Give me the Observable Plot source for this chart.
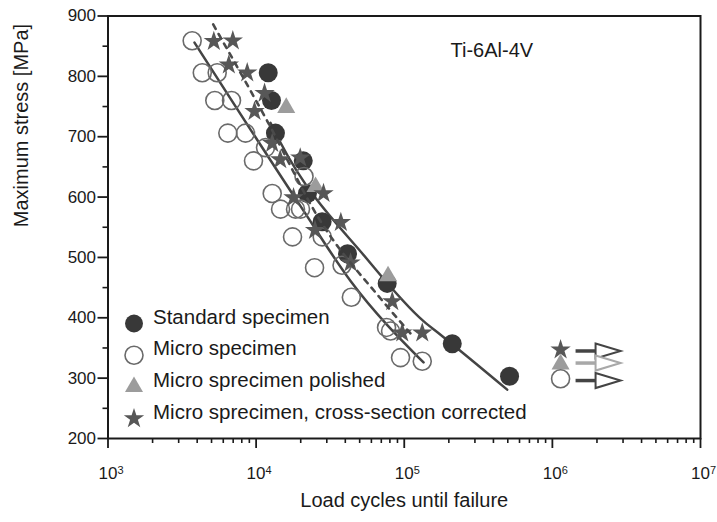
<!DOCTYPE html>
<html><head><meta charset="utf-8">
<script src="https://cdn.jsdelivr.net/npm/d3@7"></script>
<script src="https://cdn.jsdelivr.net/npm/@observablehq/plot@0.6"></script>
<style>body{margin:0;background:#fff}#chart{width:717px;height:522px}</style>
</head><body><div id="chart"></div>
<script>
// ---- data (load cycles N, maximum stress S in MPa) ----
const standardN = [12070, 12700, 13500, 20800, 22200, 27900, 41400, 76700, 210900, 514000];
const standardS = [806, 760, 706, 660, 606, 559, 506, 457, 357, 303];

const microN = [3700, 4330, 5460, 5260, 6820, 6440, 8480, 11570, 9600, 21060, 12840, 14620, 18450, 19940, 17610, 27940, 24800, 38020, 43940, 75950, 80830, 94400, 132300];
const microS = [859, 806, 806, 760, 760, 706, 706, 682, 660, 634, 606, 580, 580, 580, 534, 534, 483, 487, 434, 384, 378, 334, 328];

const polishedN = [15970, 25180, 77740];
const polishedS = [748, 617, 469];

const correctedN = [5181, 6960, 6542, 8709, 11400, 9755, 12840, 14550, 19850, 17890, 28510, 24990, 37320, 43400, 82990, 96940, 132300];
const correctedS = [858, 859, 819, 806, 772, 742, 689, 662, 665, 599, 606, 545, 558, 491, 427, 375, 375];

// run-outs (no failure)
const runoutN = [1136000, 1136000, 1136000];
const runoutS = [347, 323, 299];
const runoutType = ["corrected", "polished", "micro"];
const arrowFromN = [1434000, 1434000, 1434000];
const arrowHeadN = [1957000, 1957000, 1957000];
const arrowS = [345, 325, 296];

// fit curves
const standardFitN = [12500, 14620, 56200, 135500, 175700, 495500];
const standardFitS = [723, 690, 497, 394, 372, 281];
const microFitN = [3837, 19940, 43400, 135000];
const microFitS = [856, 585, 461, 326];
const correctedFitN = [5131, 11885, 27220, 69180, 110300];
const correctedFitS = [886, 726, 560, 432, 374];

// ticks
const xMajor = [1e3, 1e4, 1e5, 1e6, 1e7];
const xMinor = [1e3, 1e4, 1e5, 1e6].flatMap(d => [2,3,4,5,6,7,8,9].map(k => k * d));
const yMajor = [200, 300, 400, 500, 600, 700, 800, 900];
const yMinor = [250, 350, 450, 550, 650, 750, 850];

const legendLabels = ["Standard specimen", "Micro specimen", "Micro sprecimen polished", "Micro sprecimen, cross-section corrected"];
const titleText = "Ti-6Al-4V";
const xLabel = "Load cycles until failure";
const yLabel = "Maximum stress [MPa]";

// ---- styling ----
const C = {std: "#383838", micro: "#6a6a6a", pol: "#9c9c9c", star: "#575757", line: "#444", dash: "#4a4a4a", ink: "#1a1a1a", lightArrow: "#a8a8a8"};
const FONT = "'Liberation Sans', Arial, Helvetica, sans-serif";

const rows = (N, S) => N.map((n, i) => ({n, s: S[i]}));
const standard = rows(standardN, standardS);
const micro = rows(microN, microS);
const polished = rows(polishedN, polishedS);
const corrected = rows(correctedN, correctedS);
const runouts = runoutN.map((n, i) => ({n, s: runoutS[i], type: runoutType[i]}));
const arrows = arrowFromN.map((n, i) => ({n1: n, n2: arrowHeadN[i], s: arrowS[i], c: i === 1 ? C.lightArrow : "#444"}));

const arrowHead = {draw(ctx) { ctx.moveTo(0, -7.5); ctx.lineTo(25, 0); ctx.lineTo(0, 7.5); ctx.closePath(); }};

const markStyle = {
  std: {symbol: "circle", r: 9.5, fill: C.std, stroke: "none"},
  micro: {symbol: "circle", r: 9, fill: "none", stroke: C.micro, strokeWidth: 1.6},
  polished: {symbol: "triangle", r: 6.7, fill: C.pol, stroke: "none"},
  corrected: {symbol: "star", r: 6.4, fill: C.star, stroke: "none"}
};
const legendKeys = ["std", "micro", "polished", "corrected"];

const legendMarks = legendKeys.flatMap((k, i) => [
  Plot.dot([0], {frameAnchor: "bottom-left", dx: 26, dy: -115 + i * 31.7, ...markStyle[k], r: k === "std" ? 9 : markStyle[k].r}),
  Plot.text([legendLabels[i]], {frameAnchor: "bottom-left", dx: 45, dy: -115 + i * 31.7, text: d => d, textAnchor: "start", fontSize: 20.5, fill: C.ink})
]);

const chart = Plot.plot({
  width: 717, height: 522,
  marginLeft: 107.5, marginRight: 17, marginTop: 15.5, marginBottom: 84,
  style: {fontFamily: FONT, background: "#fff", color: C.ink},
  x: {type: "log", domain: [1e3, 1e7]},
  y: {domain: [200, 900]},
  marks: [
    // fit curves
    Plot.line(rows(microFitN, microFitS), {x: "n", y: "s", stroke: C.line, strokeWidth: 2.5, curve: "monotone-x"}),
    Plot.line(rows(standardFitN, standardFitS), {x: "n", y: "s", stroke: C.line, strokeWidth: 2.5, curve: "monotone-x"}),
    // data points
    Plot.dot(standard, {x: "n", y: "s", ...markStyle.std}),
    Plot.dot(micro, {x: "n", y: "s", ...markStyle.micro}),
    Plot.dot(polished, {x: "n", y: "s", ...markStyle.polished}),
    Plot.dot(corrected, {x: "n", y: "s", ...markStyle.corrected}),
    Plot.line(rows(correctedFitN, correctedFitS), {x: "n", y: "s", stroke: C.dash, strokeWidth: 2.6, strokeDasharray: "5,6", curve: "monotone-x"}),
    // run-outs
    Plot.dot(runouts.filter(d => d.type === "polished"), {x: "n", y: "s", ...markStyle.polished}),
    Plot.dot(runouts.filter(d => d.type === "micro"), {x: "n", y: "s", ...markStyle.micro, fill: "#fff"}),
    Plot.dot(runouts.filter(d => d.type === "corrected"), {x: "n", y: "s", ...markStyle.corrected}),
    Plot.link(arrows, {x1: "n1", x2: "n2", y1: "s", y2: "s", stroke: "c", strokeWidth: 3.5}),
    Plot.dot(arrows, {x: "n2", y: "s", symbol: arrowHead, r: 5, fill: "#fff", stroke: "c", strokeWidth: 2}),
    // axes
    Plot.axisX(xMinor, {anchor: "bottom", tickSize: 5, tickFormat: () => "", strokeWidth: 1.6, stroke: C.ink, label: null}),
    Plot.axisX(xMajor, {anchor: "bottom", tickSize: 10, tickPadding: 18, strokeWidth: 1.8, stroke: C.ink, fill: C.ink, fontSize: 17, tickFormat: d => String(Math.round(Math.log10(d))), label: null}),
    Plot.axisY(yMinor, {anchor: "left", tickSize: 5, tickFormat: () => "", strokeWidth: 1.6, stroke: C.ink, label: null}),
    Plot.axisY(yMajor, {anchor: "left", tickSize: 10, tickPadding: 2, strokeWidth: 1.8, stroke: C.ink, fill: C.ink, fontSize: 17, label: null}),
    Plot.frame({stroke: C.ink, strokeWidth: 2}),
    // texts
    Plot.text([titleText], {frameAnchor: "top-left", dx: 342.5, dy: 27, text: d => d, textAnchor: "start", fontSize: 20, fill: C.ink}),
    Plot.text([yLabel], {frameAnchor: "left", dx: -86, rotate: -90, text: d => d, fontSize: 20, fill: C.ink}),
    Plot.text([xLabel], {frameAnchor: "bottom", dy: 68, text: d => d, fontSize: 20, fill: C.ink}),
    ...legendMarks
  ]
});

// power-of-ten labels with superscript exponents
chart.querySelectorAll('[aria-label="x-axis tick label"] text').forEach(t => {
  const e = t.textContent;
  if (!e) return;
  t.textContent = "";
  const ns = "http://www.w3.org/2000/svg";
  const base = document.createElementNS(ns, "tspan");
  base.textContent = "10";
  const sup = document.createElementNS(ns, "tspan");
  sup.textContent = e;
  sup.setAttribute("dy", "-0.45em");
  sup.setAttribute("font-size", "11");
  t.appendChild(base); t.appendChild(sup);
  t.setAttribute("dx", "3");
});
document.getElementById("chart").appendChild(chart);
</script>
</body></html>
